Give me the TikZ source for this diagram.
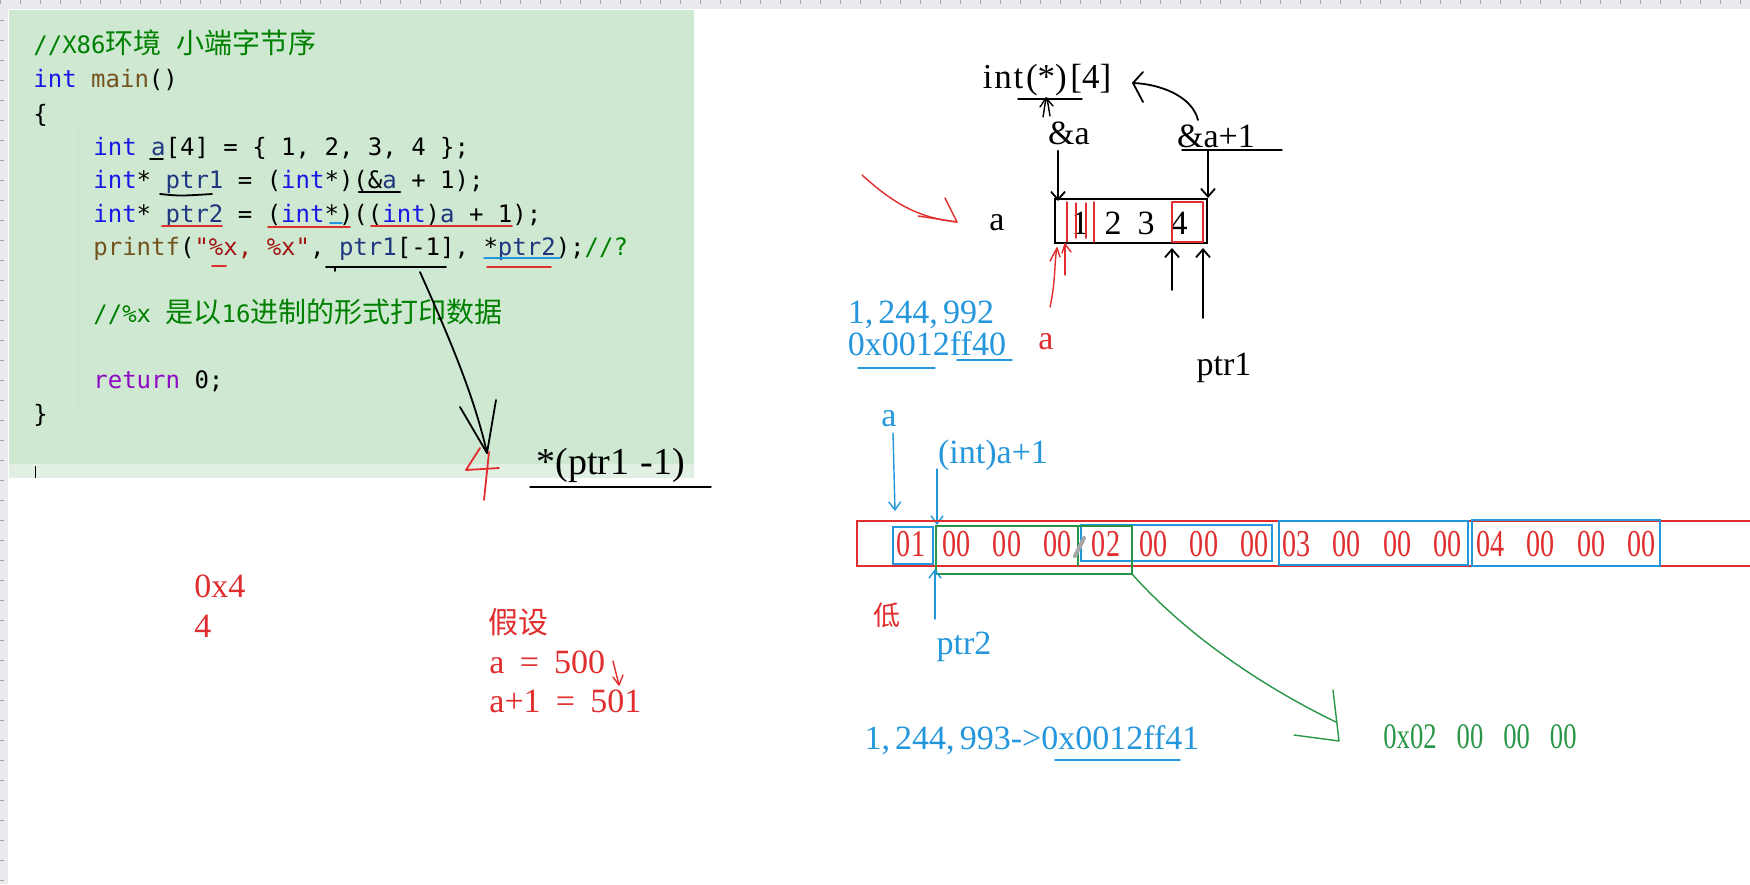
\documentclass[tikz,border=0pt]{standalone}
\usepackage{fontspec}
\setmainfont{Liberation Serif}
\newfontfamily\codefont{DejaVu Sans Mono}
\newfontfamily\cjk{Noto Sans CJK SC}
\usetikzlibrary{arrows.meta,calc}
\definecolor{panel}{RGB}{206,232,209}
\definecolor{curline}{RGB}{226,240,228}
\definecolor{kw}{RGB}{25,25,230}
\definecolor{fn}{RGB}{116,83,31}
\definecolor{vr}{RGB}{31,55,127}
\definecolor{st}{RGB}{163,21,21}
\definecolor{cm}{RGB}{0,128,0}
\definecolor{rt}{RGB}{143,8,196}
\definecolor{pen}{RGB}{225,45,45}
\definecolor{bl}{RGB}{35,150,220}
\definecolor{gr}{RGB}{40,150,70}
\definecolor{ruler}{RGB}{234,234,238}
\newcommand\ckw[1]{\textcolor{kw}{#1}}
\newcommand\cfn[1]{\textcolor{fn}{#1}}
\newcommand\cvr[1]{\textcolor{vr}{#1}}
\newcommand\cst[1]{\textcolor{st}{#1}}
\newcommand\ccm[1]{\textcolor{cm}{#1}}
\newcommand\crt[1]{\textcolor{rt}{#1}}
\newcommand\zh[1]{{\cjk\fontsize{14}{14}\selectfont #1}}
\newcommand\cnd[1]{\scalebox{0.74}[1]{#1}}
\newcommand\bgap{\hspace{11pt}}
\tikzset{
  code/.style={anchor=base west, inner sep=0pt, font=\codefont\fontsize{12}{14}\selectfont},
  hand/.style={inner sep=0pt, font=\fontsize{17}{20}\selectfont},
  byte/.style={inner sep=0pt, text=pen, font=\fontsize{19}{20}\selectfont},
  stroke/.style={line width=0.9pt, line cap=round, line join=round},
  harrow/.style={stroke, -{Straight Barb[length=4pt,width=7pt]}},
}
\begin{document}
\begin{tikzpicture}[x=0.5pt, y=-0.5pt]
\useasboundingbox (0,0) rectangle (1750,884);
\fill[white] (0,0) rectangle (1750,884);
% rulers
\fill[ruler] (0,0) rectangle (1750,9);
\fill[ruler] (0,0) rectangle (8,884);
\foreach \i in {0,20,...,1740} {\draw[gray!70, line width=0.3pt] (\i,0) -- (\i,4);}
\foreach \i in {20,40,...,880} {\draw[gray!70, line width=0.3pt] (0,\i) -- (4,\i);}
% code panel
\fill[panel] (9,10) rectangle (694,478);
\fill[curline] (9,464) rectangle (694,478);
\draw[gray!45, densely dotted, line width=0.5pt] (78,128) -- (78,412);
\draw[black, line width=0.5pt] (35,466) -- (35,478);
% code lines
\node[code] (l1) at (33,53) {\ccm{//X86\zh{环境} \zh{小端字节序}}};
\node[code] (l2) at (33,87) {\ckw{int} \cfn{main}()};
\node[code] (l3) at (33,122) {\{};
\node[code] (l4) at (93,155) {\ckw{int} \cvr{a}[4] = \{ 1, 2, 3, 4 \};};
\node[code] (l5) at (93,188) {\ckw{int}* \cvr{ptr1} = (\ckw{int}*)(\&\cvr{a} + 1);};
\node[code] (l6) at (93,222) {\ckw{int}* \cvr{ptr2} = (\ckw{int}*)((\ckw{int})\cvr{a} + 1);};
\node[code] (l7) at (93,255) {\cfn{printf}(\cst{"\%x, \%x"}, \cvr{ptr1}[-1], *\cvr{ptr2});\ccm{//?}};
\node[code] (l8) at (93,322) {\ccm{//\%x \zh{是以}16\zh{进制的形式打印数据}}};
\node[code] (l9) at (93,388) {\crt{return} 0;};
\node[code] (l10) at (33,422) {\}};
% code underlines
\draw[stroke, black] (150,159) -- (163,159);
\draw[stroke, black] (160,194) .. controls (180,196) .. (212,194);
\draw[stroke, black, line width=1.4pt] (359,192) -- (400,192);
\draw[stroke, pen] (162,226) -- (222,226);
\draw[stroke, pen] (268,227) -- (350,227);
\draw[stroke, bl] (330,223) -- (342,223);
\draw[stroke, pen] (371,226) -- (512,226);
\draw[stroke, pen] (212,266) -- (226,266);
\draw[stroke, black] (326,267) -- (446,267);
\draw[stroke, black] (335,267) -- (335,271);
\draw[stroke, bl] (484,258) -- (560,258);
\draw[stroke, pen] (487,267) -- (551,267);
% ptr1[-1] arrow
\coordinate (c1) at (420,272);
\coordinate (c1t) at (487,453);
\draw[stroke] (c1) .. controls (448,335) and (474,395) .. (c1t);
\draw[stroke] (460,407) -- (c1t) -- (496,400);
% handwritten red 4
\draw[stroke, pen] (480,448) -- (466,470) -- (499,468);
\draw[stroke, pen] (489,452) -- (484,500);
\node[hand, font=\fontsize{19}{20}\selectfont, anchor=base west] (deref) at (536,474) {*(ptr1\hspace{0.3em}-1)};
\draw[stroke, line width=0.7pt] (530,487) -- (711,487);
% ---------- right top ----------
\node[hand, font=\fontsize{17.5}{20}\selectfont] (ptype) at (1047,80) {i\hspace{0.05em}n\hspace{0.05em}t\hspace{0.08em}(*)\hspace{0.1em}[4]};
\draw[stroke, line width=0.7pt] (1018,99) -- (1082,99);
\draw[stroke, line width=0.7pt] (1043,117) -- (1046,98) (1050,116) -- (1047,98);
\draw[stroke, line width=0.7pt] (1040,107) -- (1046,98) -- (1053,106);
\node[hand] (amp) at (1069,133) {\&a};
\node[hand] (amp1) at (1216,136) {\&a+1};
\draw[stroke, line width=0.7pt] (1182,150) -- (1282,150);
\coordinate (p1s) at (1198,120);
\coordinate (p1t) at (1133,83);
\draw[stroke] (p1s) .. controls (1192,96) and (1160,84) .. (p1t);
\draw[stroke] (1143,72) -- (p1t) -- (1143,102);
\node[draw, line width=1.4pt, minimum width=76pt, minimum height=22pt, inner sep=0pt] (arr) at (1131,221) {};
\node[hand] (e1) at (1080,223) {1};
\node[hand] (e2) at (1113,223) {2};
\node[hand] (e3) at (1146,223) {3};
\node[hand] (e4) at (1179,223) {4};
\node[hand] (an) at (997,223) {a};
\coordinate (ampT) at (1058,201);
\draw[harrow] (ampT |- amp.south) ++(0,6) -- (ampT);
\coordinate (amp1T) at (1208,198);
\draw[harrow] (1208,150) -- (amp1T);
% red marks in the array box
\draw[stroke, pen, line width=0.7pt] (1067,202) -- (1067,242);
\draw[stroke, pen, line width=0.7pt] (1076,203) -- (1076,238);
\draw[stroke, pen, line width=0.7pt] (1086,203) -- (1086,238);
\draw[stroke, pen, line width=0.7pt] (1094,202) -- (1094,242);
\draw[stroke, pen, line width=1pt] (1172,202) rectangle (1203,242);
\draw[stroke, pen, line width=0.7pt] (1050,307) .. controls (1056,280) and (1054,262) .. (1057,248);
\draw[stroke, pen, line width=0.7pt] (1050,261) -- (1057,248) -- (1060,257);
\draw[stroke, pen, line width=0.7pt] (1065,275) -- (1065,244);
\draw[stroke, pen, line width=0.7pt] (1062,253) -- (1065,244) -- (1071,252);
% black arrows under box
\node[hand] (ptr1) at (1224,368) {ptr1};
\draw[harrow] (1172,290) -- (1172,248);
\draw[harrow] (1203,318) -- (1203,248);
% red curved arrow
\coordinate (rs) at (862,175);
\coordinate (rt) at (957,222);
\draw[stroke, pen, line width=0.7pt] (rs) .. controls (895,205) and (920,218) .. (rt);
\draw[stroke, pen, line width=0.7pt] (945,198) -- (957,222) -- (918,216);
% blue addresses
\node[hand, text=bl] (d1) at (921,315) {1,\hspace{0.15em}244,\hspace{0.15em}992};
\node[hand, text=bl] (h1) at (927,344) {0x0012ff40};
\draw[stroke, bl, line width=0.7pt] (858,368) -- (935,368);
\draw[stroke, bl, line width=0.7pt] (957,360) -- (1012,360);
\node[hand, text=pen] (ra) at (1046,342) {a};
% ---------- memory ----------
\node[hand, text=bl] (ma) at (889,419) {a};
\draw[stroke, bl, line width=0.7pt, -{Straight Barb[length=4pt,width=6pt]}] (893,433) -- (895,511);
\node[hand, text=bl] (ia1) at (993,455) {(int)a+1};
\draw[stroke, bl, line width=0.7pt, -{Straight Barb[length=4pt,width=6pt]}] (937,469) -- (937,525);
\draw[pen, line width=1.3pt] (857,521) rectangle (1760,566);
\draw[bl, line width=1.3pt] (893,527) rectangle (933,564);
\draw[bl, line width=1.3pt] (1081,525) rectangle (1272,561);
\draw[bl, line width=1.3pt] (1279,521) rectangle (1468,565);
\draw[bl, line width=1.3pt] (1472,520) rectangle (1660,566);
\draw[gr, line width=1.2pt] (936,526) rectangle (1132,574);
\draw[gr, line width=1.2pt] (1078,526) -- (1078,566);
\node[byte] (y01) at (911,544) {\cnd{01}};
\node[byte] (y1) at (1007,544) {\cnd{00}\bgap\cnd{00}\bgap\cnd{00}};
\node[byte] (y02) at (1106,544) {\cnd{02}};
\node[byte] (y2) at (1204,544) {\cnd{00}\bgap\cnd{00}\bgap\cnd{00}};
\node[byte] (y3) at (1372,544) {\cnd{03}\bgap\cnd{00}\bgap\cnd{00}\bgap\cnd{00}};
\node[byte] (y4) at (1566,544) {\cnd{04}\bgap\cnd{00}\bgap\cnd{00}\bgap\cnd{00}};
\draw[gray!70, line width=2pt, line cap=round] (1084,538) -- (1075,556);
\node[inner sep=0pt, text=pen, font=\cjk\fontsize{13.5}{14}\selectfont] (low) at (887,615) {低};
\draw[stroke, bl, line width=0.7pt, -{Straight Barb[length=4pt,width=6pt]}] (935,619) -- (935,569);
\node[hand, text=bl] (p2) at (964,647) {ptr2};
\coordinate (gs) at (1132,574);
\coordinate (gt) at (1339,741);
\draw[stroke, gr, line width=0.7pt] (gs) .. controls (1200,650) and (1290,700) .. (1336,722);
\draw[stroke, gr, line width=0.7pt] (1333,690) -- (gt) -- (1294,735);
\node[inner sep=0pt, text=gr, font=\fontsize{18}{20}\selectfont] (res) at (1480,737) {\cnd{0x02}\hspace{10pt}\cnd{00}\hspace{10pt}\cnd{00}\hspace{10pt}\cnd{00}};
\node[hand, text=bl] (addr2) at (1032,740) {1,\hspace{0.15em}244,\hspace{0.15em}993->0x0012ff41};
\draw[stroke, bl, line width=0.7pt] (1055,760) -- (1180,760);
% ---------- left bottom ----------
\node[hand, text=pen, anchor=west] (x4) at (194,586) {0x4};
\node[hand, text=pen, anchor=west] (d4) at (194,626) {4};
\node[inner sep=0pt, anchor=west, text=pen, font=\cjk\fontsize{15}{16}\selectfont] (assume) at (488,622) {假设};
\node[hand, text=pen, anchor=west] (a500) at (489,662) {a\hspace{0.45em}=\hspace{0.45em}500};
\node[hand, text=pen, anchor=west] (a501) at (489,701) {a+1\hspace{0.45em}=\hspace{0.45em}501};
\draw[stroke, pen, line width=0.7pt] (613,661) -- (619,685);
\draw[stroke, pen, line width=0.7pt] (613,677) -- (619,685) -- (623,675);
\end{tikzpicture}
\end{document}
